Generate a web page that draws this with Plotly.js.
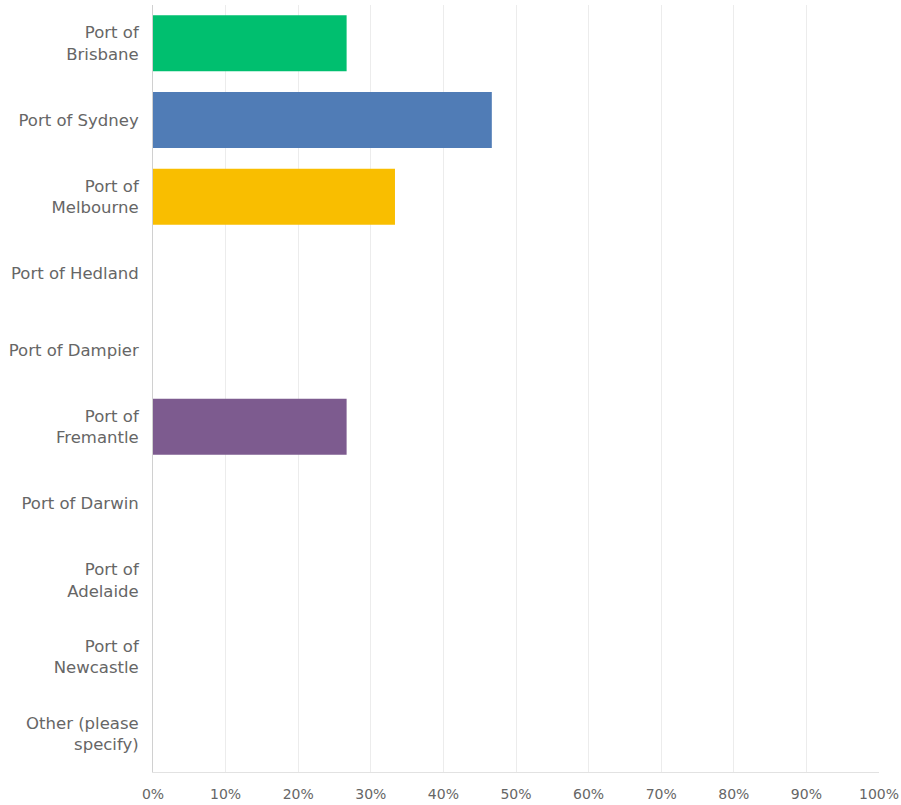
<!DOCTYPE html>
<html>
<head>
<meta charset="utf-8">
<script src="https://cdn.plot.ly/plotly-3.0.1.min.js"></script>
<style>html,body{margin:0;padding:0;background:#fff;}#chart{width:901px;height:805px;}</style>
</head>
<body>
<div id="chart"></div>
<script>
const categories = ["Port of<br>Brisbane", "Port of Sydney", "Port of<br>Melbourne", "Port of Hedland", "Port of Dampier", "Port of<br>Fremantle", "Port of Darwin", "Port of<br>Adelaide", "Port of<br>Newcastle", "Other (please<br>specify)"];
const values = [26.67, 46.67, 33.33, 0, 0, 26.67, 0, 0, 0, 0];
const barColors = ["#00BF6F", "#507CB6", "#F9BE00", "#DB4D5C", "#6BC8CD", "#7D5B8F", "#F05B24", "#A6CE39", "#333E48", "#9D9D9D"];
const tickVals = [0, 10, 20, 30, 40, 50, 60, 70, 80, 90, 100];
const tickText = ["0%", "10%", "20%", "30%", "40%", "50%", "60%", "70%", "80%", "90%", "100%"];

Plotly.newPlot("chart", [{
  type: "bar",
  orientation: "h",
  y: categories,
  x: values,
  marker: {color: barColors},
  hoverinfo: "none"
}], {
  width: 901, height: 805,
  margin: {l: 153, r: 22, t: 5, b: 33},
  paper_bgcolor: "#fff", plot_bgcolor: "#fff",
  bargap: 0.27,
  showlegend: false,
  font: {family: "'DejaVu Sans', sans-serif", size: 16, color: "#666"},
  xaxis: {
    range: [0, 100], tickvals: tickVals, ticktext: tickText,
    showgrid: true, gridcolor: "#ececec", gridwidth: 1,
    zeroline: false, showline: true, linecolor: "#e2e2e2", mirror: false,
    ticks: "", ticklen: 0, tickfont: {size: 14, color: "#666"},
    ticklabelstandoff: 9,
    ticklabeloverflow: "allow",
    fixedrange: true
  },
  yaxis: {
    autorange: "reversed", type: "category",
    showgrid: false, zeroline: false, showline: true, linecolor: "#d0d0d0",
    ticks: "", ticklabelstandoff: 10, tickfont: {size: 16.5, color: "#666"},
    fixedrange: true
  }
}, {displayModeBar: false, staticPlot: true});
</script>
</body>
</html>
